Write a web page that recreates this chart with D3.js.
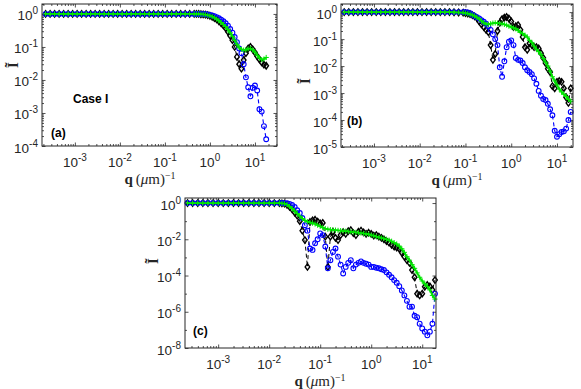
<!DOCTYPE html>
<html>
<head>
<meta charset="utf-8">
<script src="https://cdn.jsdelivr.net/npm/d3@7"></script>
<style>
  body { margin: 0; background: #fff; }
</style>
</head>
<body>
<script>
'use strict';

// ---- data (q given as log10 q, intensities as plain values) ----

// panel (a)
const logqA = [-3.65,-3.55,-3.45,-3.35,-3.25,-3.15,-3.05,-2.95,-2.85,-2.75,-2.65,-2.55,-2.45,-2.35,-2.25,-2.15,-2.05,-1.95,-1.85,-1.75,-1.65,-1.55,-1.45,-1.35,-1.25,-1.15,-1.05,-0.95,-0.85,-0.75,-0.65,-0.55,-0.45,-0.35,
  -0.3,-0.25,-0.2,-0.15,-0.1,-0.05,0,0.05,0.1,0.15,0.2,0.25,0.3,0.35,0.4,0.45,0.5,0.55,0.6,0.65,0.7,0.75,0.8,0.85,0.9,0.95,1,1.05,1.1,1.15,1.2,1.25];
const blackA = [1,1,1,1,1,1,1,1,1,1,1,1,1,1,1,1,1,1,1,1,1,1,1,1,1,1,1,1,1,1,1,1,1,1,
  1,1,0.98,0.97,0.95,0.92,0.88,0.82,0.75,0.68,0.6,0.52,0.45,0.37,0.29,0.22,0.16,0.1,0.05,0.03,0.022,0.04,0.065,0.09,0.1,0.085,0.068,0.052,0.042,0.034,0.029,0.027];
const blueA = [1,1,1,1,1,1,1,1,1,1,1,1,1,1,1,1,1,1,1,1,1,1,1,1,1,1,1,1,1,1,1,1,1,1,
  1,1,1,0.99,0.98,0.96,0.93,0.9,0.86,0.8,0.74,0.67,0.6,0.52,0.44,0.35,0.27,0.2,0.14,0.09,0.065,0.03,0.012,0.006,0.0032,0.0058,0.0068,0.0048,0.0013,0.0011,0.0004,0.00016];
const greenA = [1,1,1,1,1,1,1,1,1,1,1,1,1,1,1,1,1,1,1,1,1,1,1,1,1,1,1,1,1,1,1,1,1,1,
  1,1,0.98,0.97,0.95,0.92,0.88,0.83,0.77,0.7,0.62,0.55,0.48,0.41,0.34,0.27,0.21,0.16,0.12,0.095,0.085,0.08,0.082,0.088,0.09,0.082,0.07,0.056,0.046,0.041,0.043,0.048];

// panel (b)
const logqB = [-3.65,-3.55,-3.45,-3.35,-3.25,-3.15,-3.05,-2.95,-2.85,-2.75,-2.65,-2.55,-2.45,-2.35,-2.25,-2.15,-2.05,-1.95,-1.85,-1.75,-1.65,-1.55,-1.45,-1.35,-1.25,-1.15,-1.05,
  -1,-0.95,-0.9,-0.85,-0.8,-0.75,-0.7,-0.65,-0.6,-0.55,-0.5,-0.45,-0.4,-0.35,-0.3,-0.25,-0.2,-0.15,-0.1,-0.05,0,0.05,0.1,0.15,0.2,0.25,0.3,0.35,0.4,0.45,0.5,0.55,0.6,0.65,0.7,0.75,0.8,0.85,0.9,0.95,1,1.05,1.1,1.15,1.2,1.25,1.3];
const blackB = [1,1,1,1,1,1,1,1,1,1,1,1,1,1,1,1,1,1,1,1,1,1,1,1,0.99,0.97,0.95,
  0.92,0.88,0.84,0.78,0.7,0.6,0.45,0.35,0.28,0.22,0.18,0.06,0.017,0.028,0.2,0.4,0.55,0.62,0.66,0.58,0.45,0.28,0.3,0.33,0.22,0.12,0.05,0.04,0.07,0.06,0.05,0.05,0.045,0.03,0.02,0.013,0.008,0.006,0.0018,0.0015,0.0026,0.0028,0.0026,0.0015,0.0007,0.00043,0.0015];
const blueB = [1,1,1,1,1,1,1,1,1,1,1,1,1,1,1,1,1,1,1,1,1,1,1,1,1,1,1,
  1,0.98,0.92,0.8,0.72,0.65,0.58,0.5,0.44,0.37,0.3,0.22,0.15,0.1,0.06,0.009,0.004,0.015,0.05,0.08,0.09,0.06,0.02,0.017,0.016,0.013,0.009,0.007,0.006,0.005,0.0035,0.0022,0.0012,0.0008,0.0006,0.00055,0.0004,0.00025,0.00015,0.00004,0.000024,0.00003,0.000036,0.000038,0.000048,0.0001,0.0002];
const greenB = [1,1,1,1,1,1,1,1,1,1,1,1,1,1,1,1,1,1,1,1,1,1,1,1,0.99,0.97,0.95,
  0.92,0.88,0.84,0.78,0.72,0.64,0.56,0.47,0.4,0.36,0.35,0.37,0.39,0.4,0.39,0.38,0.37,0.35,0.33,0.3,0.28,0.26,0.24,0.21,0.18,0.16,0.14,0.12,0.09,0.075,0.055,0.042,0.034,0.027,0.019,0.014,0.01,0.0065,0.004,0.0028,0.002,0.0014,0.0011,0.0009,0.00075,0.00058,0.0005];

// panel (c)
const logqC = [-3.6,-3.5,-3.4,-3.3,-3.2,-3.1,-3,-2.9,-2.8,-2.7,-2.6,-2.5,-2.4,-2.3,-2.2,-2.1,-2,-1.9,-1.8,
  -1.75,-1.7,-1.65,-1.6,-1.55,-1.5,-1.45,-1.4,-1.35,-1.3,-1.25,-1.2,-1.15,-1.1,-1.05,-1,-0.95,-0.9,-0.85,-0.8,-0.75,-0.7,-0.65,-0.6,-0.55,-0.5,-0.45,-0.4,-0.35,-0.3,-0.25,-0.2,-0.15,-0.1,-0.05,0,0.05,0.1,0.15,0.2,0.25,0.3,0.35,0.4,0.45,0.5,0.55,0.6,0.65,0.7,0.75,0.8,0.85,0.9,0.95,1,1.05,1.1,1.15,1.2,1.25];
const blackC = [1,1,1,1,1,1,1,1,1,1,1,1,1,1,1,1,1,1,1,
  0.97,0.92,0.8,0.62,0.45,0.3,0.2,0.1,0.03,0.009,0.0003,0.09,0.11,0.12,0.095,0.075,0.08,0.014,0.0003,0.014,
  0.026,0.012,0.009,0.017,0.025,0.02,0.028,0.032,0.022,0.017,0.026,0.03,0.024,0.02,0.023,0.02,0.016,0.017,0.014,0.012,
  0.01,0.008,0.0065,0.005,0.004,0.0035,0.003,0.0018,0.0011,0.0007,0.0005,0.0002,0.00008,0.00001,0.000008,0.00001,0.000024,0.00003,0.000025,0.000016,0.000056];
const blueC = [1,1,1,1,1,1,1,1,1,1,1,1,1,1,1,1,1,1,1,
  1,0.99,0.97,0.9,0.78,0.6,0.4,0.28,0.15,0.06,0.03,0.0031,0.0026,0.006,0.01,0.021,0.017,0.004,0.00025,0.0007,
  0.002,0.0031,0.0011,0.0004,0.00013,0.0003,0.0005,0.0007,0.00025,0.0004,0.0005,0.0006,0.0005,0.00045,0.0004,0.0003,0.0003,0.00027,0.00025,0.00022,
  0.0002,0.00015,0.00011,0.00008,0.000056,0.00004,0.000026,0.000015,0.000008,0.000004,0.0000019,0.0000019,0.0000006,0.0000005,0.00000022,0.00000012,0.00000008,0.00000005,0.00000008,0.00000022,0.00001];
const greenC = [1,1,1,1,1,1,1,1,1,1,1,1,1,1,1,1,1,1,1,
  0.97,0.92,0.82,0.65,0.5,0.36,0.26,0.19,0.14,0.11,0.093,0.085,0.078,0.07,0.06,0.052,0.044,0.039,0.036,0.034,
  0.033,0.032,0.031,0.03,0.029,0.028,0.027,0.026,0.025,0.024,0.023,0.022,0.021,0.02,0.019,0.017,0.016,0.014,0.013,0.012,
  0.011,0.01,0.009,0.0078,0.0065,0.0055,0.0042,0.003,0.0019,0.0011,0.0007,0.0004,0.00025,0.00014,0.00008,0.00005,0.000035,0.000025,0.000016,0.000008,0.000005];

// ---- layout ----
const W = 581, H = 389;
const INK = '#262626';
const SANS = '"Liberation Sans", Arial, Helvetica, sans-serif';
const SERIF = '"Liberation Serif", "DejaVu Serif", "Times New Roman", serif';

const panels = [
  { tag: '(a)', box: [42, 277, 4, 146], xExp: [-3.73, 1.49], yDom: [1e-4, 2],
    logq: logqA, black: blackA, blue: blueA, green: greenA,
    yDecades: [-4, 0], yLabelStep: 1, yMinor: true,
    tagPos: [51, 137], yLab: [18, 65], xLab: [150, 184], note: 'Case I', notePos: [73, 103] },
  { tag: '(b)', box: [341, 573, 4, 147], xExp: [-3.72, 1.35], yDom: [1e-5, 2],
    logq: logqB, black: blackB, blue: blueB, green: greenB,
    yDecades: [-5, 0], yLabelStep: 1, yMinor: true,
    tagPos: [347, 125], yLab: [310, 81], xLab: [457, 185] },
  { tag: '(c)', box: [185, 436, 198, 348], xExp: [-3.65, 1.27], yDom: [1e-8, 1.9],
    logq: logqC, black: blackC, blue: blueC, green: greenC,
    yDecades: [-8, 0], yLabelStep: 2, yMinor: false,
    tagPos: [193, 335], yLab: [158, 261], xLab: [320, 386] }
];

const svg = d3.select('body').append('svg')
  .attr('width', W)
  .attr('height', H)
  .style('display', 'block');

panels.forEach(drawPanel);

function drawPanel(p) {
  const [x0, x1, y0, y1] = p.box;
  const g = svg.append('g');

  const x = d3.scaleLog()
    .domain([Math.pow(10, p.xExp[0]), Math.pow(10, p.xExp[1])])
    .range([x0, x1]);
  const y = d3.scaleLog()
    .domain(p.yDom)
    .range([y1, y0]);

  // ticks
  const xAll = x.ticks();
  const xMajor = xAll.filter(isPow10);
  const xMinor = xAll.filter(v => !isPow10(v));
  let yMajor, yMinor;
  if (p.yMinor) {
    const yAll = y.ticks();
    yMajor = yAll.filter(isPow10);
    yMinor = yAll.filter(v => !isPow10(v));
  } else {
    const dec = d3.range(p.yDecades[0], p.yDecades[1] + 1).map(e => Math.pow(10, e));
    yMajor = dec.filter(v => Math.round(Math.log10(v)) % p.yLabelStep === 0);
    yMinor = dec.filter(v => Math.round(Math.log10(v)) % p.yLabelStep !== 0);
  }

  tickSet(g, d3.axisBottom, x, xMajor, 3.5, `translate(0,${y1})`);
  tickSet(g, d3.axisBottom, x, xMinor, 2, `translate(0,${y1})`);
  tickSet(g, d3.axisTop, x, xMajor, 3.5, `translate(0,${y0})`);
  tickSet(g, d3.axisTop, x, xMinor, 2, `translate(0,${y0})`);
  tickSet(g, d3.axisLeft, y, yMajor, 3.5, `translate(${x0},0)`);
  tickSet(g, d3.axisLeft, y, yMinor, 2, `translate(${x0},0)`);
  tickSet(g, d3.axisRight, y, yMajor, 3.5, `translate(${x1},0)`);
  tickSet(g, d3.axisRight, y, yMinor, 2, `translate(${x1},0)`);

  // tick labels
  xMajor.forEach(v => powLabel(g, x(v), y1 + 20.5, Math.round(Math.log10(v)), 'middle'));
  yMajor.filter(v => Math.round(Math.log10(v)) % p.yLabelStep === 0)
    .forEach(v => powLabel(g, x0 - 4, y(v) + 6.5, Math.round(Math.log10(v)), 'end'));

  // series
  const pts = vals => p.logq.map((lq, i) => ({ q: Math.pow(10, lq), v: vals[i] }));
  const line = d3.line().x(d => x(d.q)).y(d => y(d.v));

  const blackPts = pts(p.black);
  const bluePts = pts(p.blue);
  const greenPts = pts(p.green);

  g.append('path').datum(blackPts)
    .attr('d', line).attr('fill', 'none')
    .attr('stroke', '#000').attr('stroke-width', 1)
    .attr('stroke-dasharray', '4,3');
  g.selectAll('.dia').data(blackPts).enter().append('path')
    .attr('transform', d => `translate(${x(d.q)},${y(d.v)})`)
    .attr('d', 'M0,-3.2L2.3,0L0,3.2L-2.3,0Z')
    .attr('fill', 'none').attr('stroke', '#000').attr('stroke-width', 1.4);

  g.append('path').datum(bluePts)
    .attr('d', line).attr('fill', 'none')
    .attr('stroke', '#0000ff').attr('stroke-width', 1.1)
    .attr('stroke-dasharray', '4,3');
  g.selectAll('.cir').data(bluePts).enter().append('circle')
    .attr('cx', d => x(d.q)).attr('cy', d => y(d.v)).attr('r', 2.4)
    .attr('fill', 'none').attr('stroke', '#0000ff').attr('stroke-width', 1.1);

  g.append('path').datum(greenPts)
    .attr('d', line).attr('fill', 'none')
    .attr('stroke', '#00e600').attr('stroke-width', 1.8);
  g.selectAll('.pls').data(greenPts).enter().append('path')
    .attr('transform', d => `translate(${x(d.q)},${y(d.v)})`)
    .attr('d', 'M-2.6,0H2.6M0,-2.6V2.6')
    .attr('stroke', '#00e600').attr('stroke-width', 1);

  // frame
  g.append('rect')
    .attr('x', x0).attr('y', y0)
    .attr('width', x1 - x0).attr('height', y1 - y0)
    .attr('fill', 'none').attr('stroke', INK).attr('stroke-width', 1);

  // panel tag and note
  g.append('text')
    .attr('x', p.tagPos[0]).attr('y', p.tagPos[1])
    .style('font-family', SANS).style('font-size', '12px').style('font-weight', 'bold')
    .attr('fill', '#000')
    .text(p.tag);
  if (p.note) {
    g.append('text')
      .attr('x', p.notePos[0]).attr('y', p.notePos[1])
      .style('font-family', SANS).style('font-size', '12px').style('font-weight', 'bold')
      .attr('fill', '#000')
      .text(p.note);
  }

  // y label (I with tilde), rotated
  g.append('text')
    .attr('transform', `translate(${p.yLab[0]},${p.yLab[1]})rotate(-90)`)
    .attr('text-anchor', 'middle')
    .style('font-family', SERIF).style('font-size', '15px').style('font-weight', 'bold')
    .attr('fill', INK)
    .text('\u0128');

  // x label  q (μm)^-1
  const xl = g.append('text')
    .attr('x', p.xLab[0]).attr('y', p.xLab[1])
    .attr('text-anchor', 'middle')
    .style('font-family', SERIF).style('font-size', '15px')
    .attr('fill', INK);
  xl.append('tspan').style('font-weight', 'bold').text('q');
  xl.append('tspan').text('\u2009(');
  xl.append('tspan').style('font-style', 'italic').text('\u03bc');
  xl.append('tspan').text('m)');
  xl.append('tspan').attr('dy', -5.5).style('font-size', '10px').text('\u22121');
}

function isPow10(v) {
  const e = Math.log10(v);
  return Math.abs(e - Math.round(e)) < 1e-9;
}

function tickSet(g, axisFn, scale, values, size, transform) {
  g.append('g')
    .attr('transform', transform)
    .call(axisFn(scale).tickValues(values).tickSize(-size).tickFormat(''))
    .call(s => s.select('.domain').remove())
    .call(s => s.selectAll('line').attr('stroke', INK).attr('stroke-width', 0.8));
}

function powLabel(g, px, py, exp, anchor) {
  const t = g.append('text')
    .attr('x', px).attr('y', py)
    .attr('text-anchor', anchor)
    .style('font-family', SANS).style('font-size', '13.5px')
    .attr('fill', INK);
  t.append('tspan').text('10');
  t.append('tspan').attr('dy', -6).style('font-size', '10px').text(String(exp));
}
</script>
</body>
</html>
